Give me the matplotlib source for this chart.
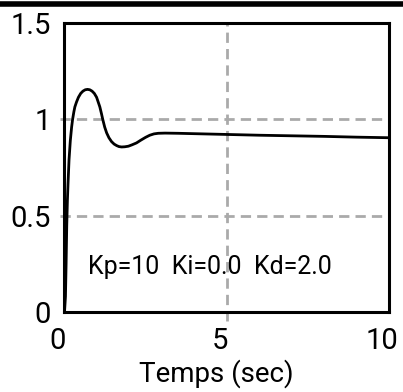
"""Step response of a PID-controlled plant (Kp=10, Ki=0, Kd=2)."""
import matplotlib

matplotlib.use("Agg")
import matplotlib.pyplot as plt
import matplotlib.transforms as mtransforms
from matplotlib.lines import Line2D

plt.rcParams["font.family"] = ["Roboto", "DejaVu Sans"]

# response
t_sec = [0.0, 0.03, 0.05, 0.07, 0.09, 0.11, 0.14, 0.18, 0.22, 0.25, 0.29,
         0.32, 0.37, 0.43, 0.50, 0.57, 0.64, 0.71, 0.78, 0.85, 0.92, 0.99,
         1.04, 1.09, 1.14, 1.18, 1.24, 1.30, 1.37, 1.45, 1.53, 1.61, 1.68,
         1.76, 1.86, 1.97, 2.08, 2.22, 2.35, 2.50, 2.63, 2.76, 2.89, 3.10,
         3.50, 4.0, 5.0, 6.0, 7.0, 8.0, 9.0, 10.0]
response = [0.0, 0.08, 0.25, 0.45, 0.58, 0.67, 0.79, 0.89, 0.96, 1.00, 1.04,
            1.065, 1.09, 1.115, 1.135, 1.147, 1.154, 1.156, 1.154, 1.147,
            1.135, 1.115, 1.09, 1.065, 1.03, 1.00, 0.96, 0.93, 0.905, 0.885,
            0.872, 0.864, 0.859, 0.857, 0.858, 0.861, 0.868, 0.878, 0.892,
            0.907, 0.918, 0.925, 0.928, 0.929, 0.928, 0.926, 0.922, 0.918,
            0.915, 0.912, 0.908, 0.905]

x_ticks = [0, 5, 10]
y_ticks = [0, 0.5, 1, 1.5]
y_tick_labels = ["0", "0.5", "1", "1.5"]
x_grid = [5]
y_grid = [0.5, 1]
gains_text = "Kp=10  Ki=0.0  Kd=2.0"

GRID = "#aaaaaa"

fig = plt.figure(figsize=(4.03, 3.92), dpi=100)
ax = fig.add_axes([0.160, 0.204, 0.805, 0.737])

for x in x_grid:
    ax.axvline(x, ymin=-0.03, ymax=1, color=GRID, lw=2, dashes=(3.7, 2.2),
               clip_on=False, zorder=1)
for y in y_grid:
    ax.axhline(y, xmin=-0.015, xmax=1, color=GRID, lw=2, dashes=(3.7, 2.2),
               clip_on=False, zorder=1)

ax.plot(t_sec, response, color="black", lw=2, zorder=3)
ax.text(0.072, 0.131, gains_text, fontsize=18, va="baseline", ha="left",
        transform=ax.transAxes)

ax.set_xlim(0, 10)
ax.set_ylim(0, 1.5)
ax.set_xticks(x_ticks)
ax.set_yticks(y_ticks)
ax.set_yticklabels(y_tick_labels)
ax.tick_params(length=0, labelsize=21)
ax.tick_params(axis="x", pad=11)
ax.tick_params(axis="y", pad=10)
shift = mtransforms.ScaledTranslation(-7 / 100, 0, fig.dpi_scale_trans)
for lab in ax.get_xticklabels():
    lab.set_transform(lab.get_transform() + shift)

for sp in ax.spines.values():
    sp.set_linewidth(2.2)

ax.set_xlabel("Temps (sec)", fontsize=20)
ax.xaxis.set_label_coords(0.468, -0.165)

# black rule at the very top of the cropped figure
fig.add_artist(Line2D([0, 1], [0.991, 0.991], transform=fig.transFigure,
                      color="black", lw=4))

fig.savefig("out.png", dpi=100)
